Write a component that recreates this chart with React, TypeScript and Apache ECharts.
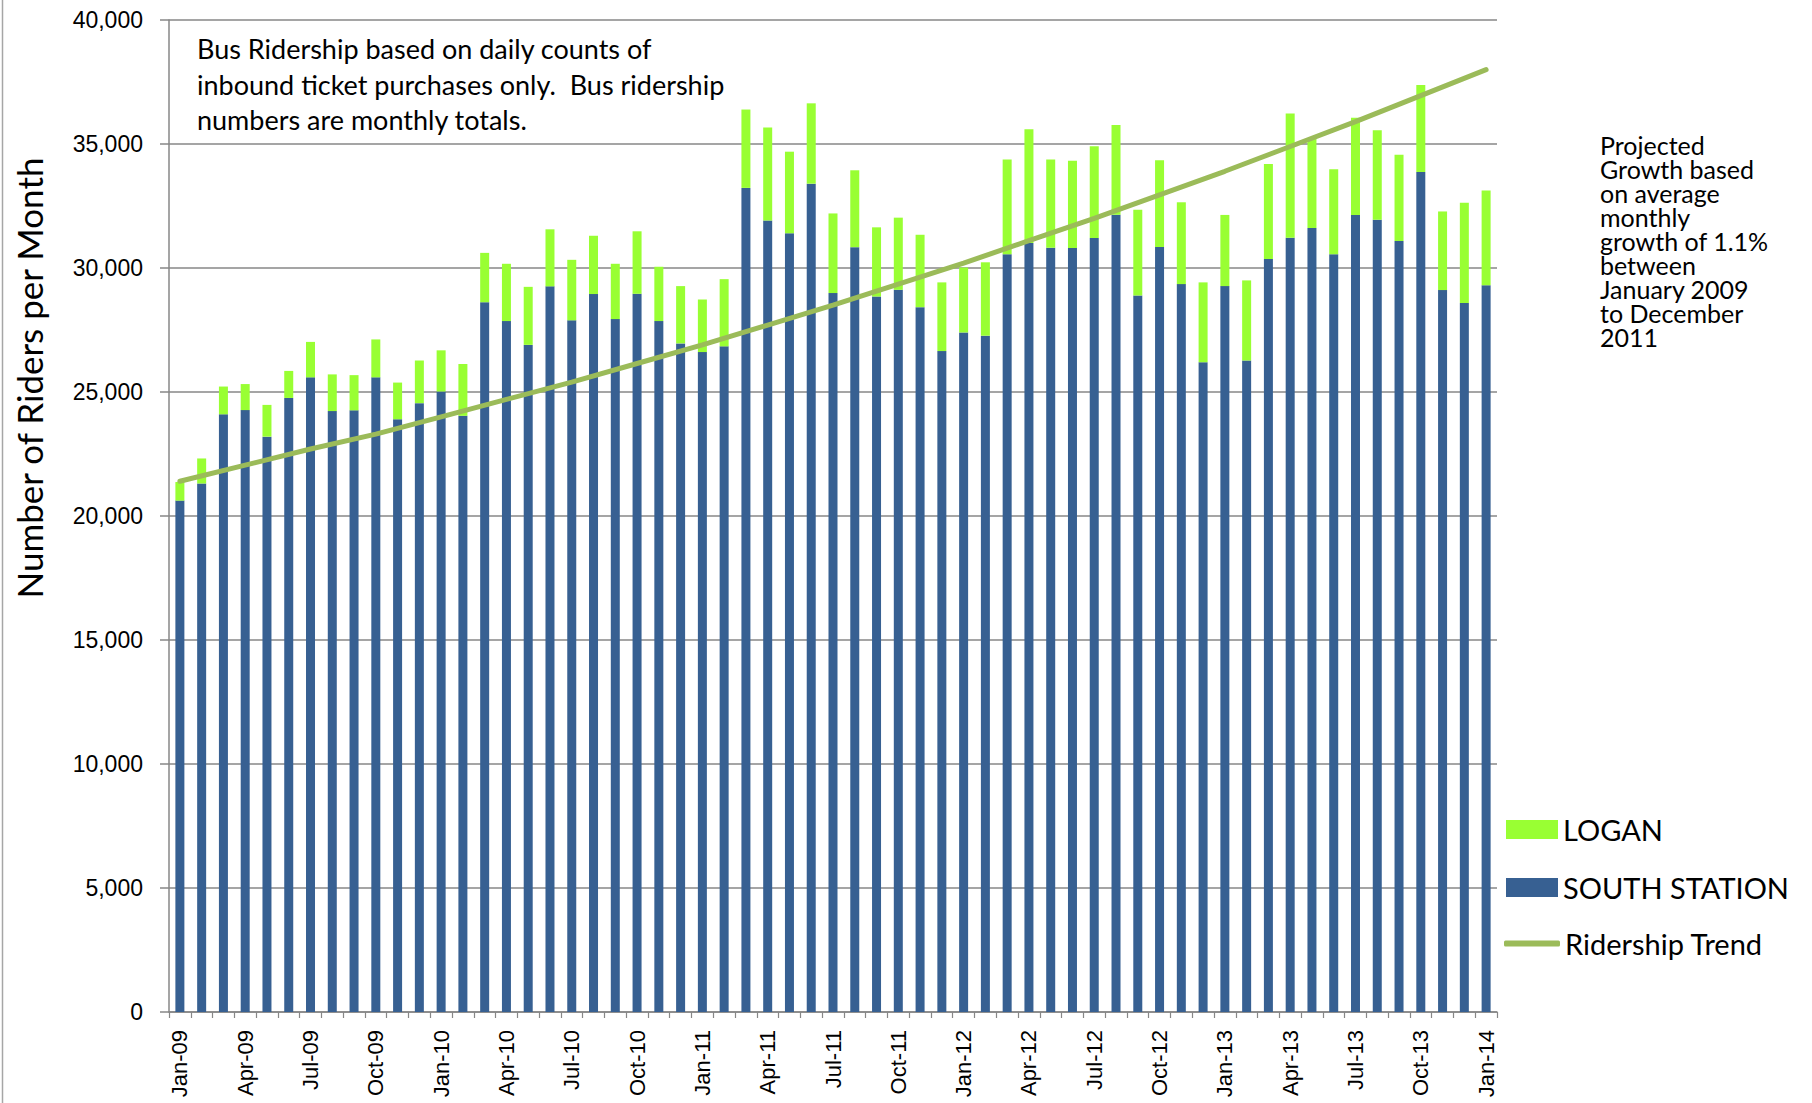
import React, { useEffect, useRef } from "react";
import * as echarts from "echarts";

const categories = [
  "Jan-09", "Feb-09", "Mar-09", "Apr-09", "May-09", "Jun-09", "Jul-09", "Aug-09", "Sep-09", "Oct-09", "Nov-09", "Dec-09",
  "Jan-10", "Feb-10", "Mar-10", "Apr-10", "May-10", "Jun-10", "Jul-10", "Aug-10", "Sep-10", "Oct-10", "Nov-10", "Dec-10",
  "Jan-11", "Feb-11", "Mar-11", "Apr-11", "May-11", "Jun-11", "Jul-11", "Aug-11", "Sep-11", "Oct-11", "Nov-11", "Dec-11",
  "Jan-12", "Feb-12", "Mar-12", "Apr-12", "May-12", "Jun-12", "Jul-12", "Aug-12", "Sep-12", "Oct-12", "Nov-12", "Dec-12",
  "Jan-13", "Feb-13", "Mar-13", "Apr-13", "May-13", "Jun-13", "Jul-13", "Aug-13", "Sep-13", "Oct-13", "Nov-13", "Dec-13",
  "Jan-14",
];

const southStation = [
  20620, 21310, 24100, 24270, 23200, 24760, 25590, 24230, 24260, 25590, 23900, 24550,
  25020, 24040, 28620, 27860, 26900, 29260, 27890, 28950, 27940, 28960, 27860, 26960,
  26610, 26840, 33230, 31920, 31400, 33400, 28990, 30840, 28850, 29120, 28420, 26650,
  27400, 27270, 30550, 31010, 30820, 30810, 31210, 32150, 28890, 30850, 29350, 26200,
  29270, 26270, 30360, 31220, 31610, 30550, 32140, 31950, 31090, 33870, 29110, 28590,
  29300,
];

const logan = [
  750, 1010, 1120, 1050, 1280, 1090, 1430, 1480, 1420, 1530, 1480, 1720,
  1660, 2090, 1990, 2310, 2340, 2300, 2440, 2350, 2230, 2520, 2190, 2310,
  2120, 2710, 3160, 3750, 3290, 3240, 3210, 3100, 2790, 2910, 2920, 2770,
  2620, 2960, 3820, 4580, 3550, 3510, 3700, 3620, 3460, 3490, 3300, 3220,
  2870, 3230, 3830, 5010, 3590, 3430, 3920, 3600, 3480, 3510, 3170, 4040,
  3830,
];

// Trend line read at the quarterly label months; other months left empty.
const trend = [
  21400, null, null, 22050, null, null, 22700, null, null, 23300, null, null,
  24000, null, null, 24700, null, null, 25400, null, null, 26150, null, null,
  26900, null, null, 27700, null, null, 28500, null, null, 29350, null, null,
  30200, null, null, 31100, null, null, 32000, null, null, 32950, null, null,
  33900, null, null, 34900, null, null, 35900, null, null, 36950, null, null,
  38000,
];

const noteText = "Bus Ridership based on daily counts of\ninbound ticket purchases only.  Bus ridership\nnumbers are monthly totals.";
const projectionText = "Projected\nGrowth based\non average\nmonthly\ngrowth of 1.1%\nbetween\nJanuary 2009\nto December\n2011";
const yTitle = "Number of Riders per Month";

const BLUE = "#376092";
const GREEN = "#99FF33";
const TREND = "#9BBB59";
const GRID = "#878787";

export default function App() {
  const ref = useRef<HTMLDivElement>(null);
  useEffect(() => {
    const chart = echarts.init(ref.current!, null, { renderer: "svg" });
    chart.setOption({
      animation: false,
      backgroundColor: "#ffffff",
      grid: { left: 169, right: 315, top: 20, bottom: 91, containLabel: false },
      legend: [
        {
          orient: "vertical",
          left: 1501,
          top: 810,
          itemWidth: 52,
          itemHeight: 19,
          itemGap: 29,
          selectedMode: false,
          data: [
            { name: "LOGAN", icon: "rect" },
            { name: "SOUTH STATION", icon: "rect" },
          ],
          textStyle: { fontSize: 29, lineHeight: 28, color: "#000", fontFamily: "Lato" },
        },
        {
          orient: "vertical",
          left: 1499,
          top: 924,
          itemWidth: 56,
          itemHeight: 6,
          selectedMode: false,
          data: [{ name: "Ridership Trend", icon: "roundRect" }],
          textStyle: { fontSize: 29, lineHeight: 28, color: "#000", fontFamily: "Lato" },
        },
      ],
      xAxis: {
        type: "category",
        data: categories,
        boundaryGap: true,
        axisLine: { show: true, lineStyle: { color: GRID, width: 1.5 } },
        axisTick: { show: true, interval: 0, length: 6, lineStyle: { color: GRID, width: 1.2 } },
        axisLabel: {
          interval: 2,
          rotate: 90,
          margin: 18,
          fontSize: 22,
          color: "#000",
          fontFamily: "Liberation Sans",
        },
      },
      yAxis: {
        type: "value",
        min: 0,
        max: 40000,
        interval: 5000,
        axisLine: { show: true, lineStyle: { color: GRID, width: 1.5 } },
        axisTick: { show: true, length: 9, lineStyle: { color: GRID, width: 1.5 } },
        splitLine: { show: true, lineStyle: { color: GRID, width: 1.5 } },
        axisLabel: {
          margin: 26,
          fontSize: 23,
          color: "#000",
          fontFamily: "Liberation Sans",
          formatter: (v: number) => v.toLocaleString("en-US"),
        },
      },
      series: [
        {
          name: "SOUTH STATION",
          type: "bar",
          stack: "total",
          data: southStation,
          barWidth: 9,
          itemStyle: { color: BLUE },
        },
        {
          name: "LOGAN",
          type: "bar",
          stack: "total",
          data: logan,
          barWidth: 9,
          itemStyle: { color: GREEN },
        },
        {
          name: "Ridership Trend",
          type: "line",
          data: trend,
          connectNulls: true,
          symbol: "none",
          showSymbol: false,
          color: TREND,
          itemStyle: { color: TREND },
          lineStyle: { color: TREND, width: 5, cap: "round" },
          z: 5,
        },
      ],
      graphic: [
        {
          type: "line",
          shape: { x1: 2.5, y1: 0, x2: 2.5, y2: 1103 },
          style: { stroke: "#a6a6a6", lineWidth: 1.5 },
        },
        {
          type: "text",
          x: 197,
          y: 31,
          style: {
            text: noteText,
            fontSize: 27,
            lineHeight: 35.5,
            fontFamily: "Lato",
            fill: "#000",
            verticalAlign: "top",
          },
        },
        {
          type: "text",
          x: 1600,
          y: 133,
          style: {
            text: projectionText,
            fontSize: 25,
            lineHeight: 24,
            fontFamily: "Lato",
            fill: "#000",
            verticalAlign: "top",
          },
        },
        {
          type: "text",
          x: 29,
          y: 378,
          rotation: Math.PI / 2,
          style: {
            text: yTitle,
            fontSize: 35,
            fontFamily: "Lato",
            fill: "#000",
            align: "center",
            verticalAlign: "middle",
          },
        },
      ],
    });
    return () => chart.dispose();
  }, []);
  return (
    <div
      ref={ref}
      style={{ position: "absolute", left: 0, top: 0, width: 1812, height: 1103 }}
    />
  );
}
